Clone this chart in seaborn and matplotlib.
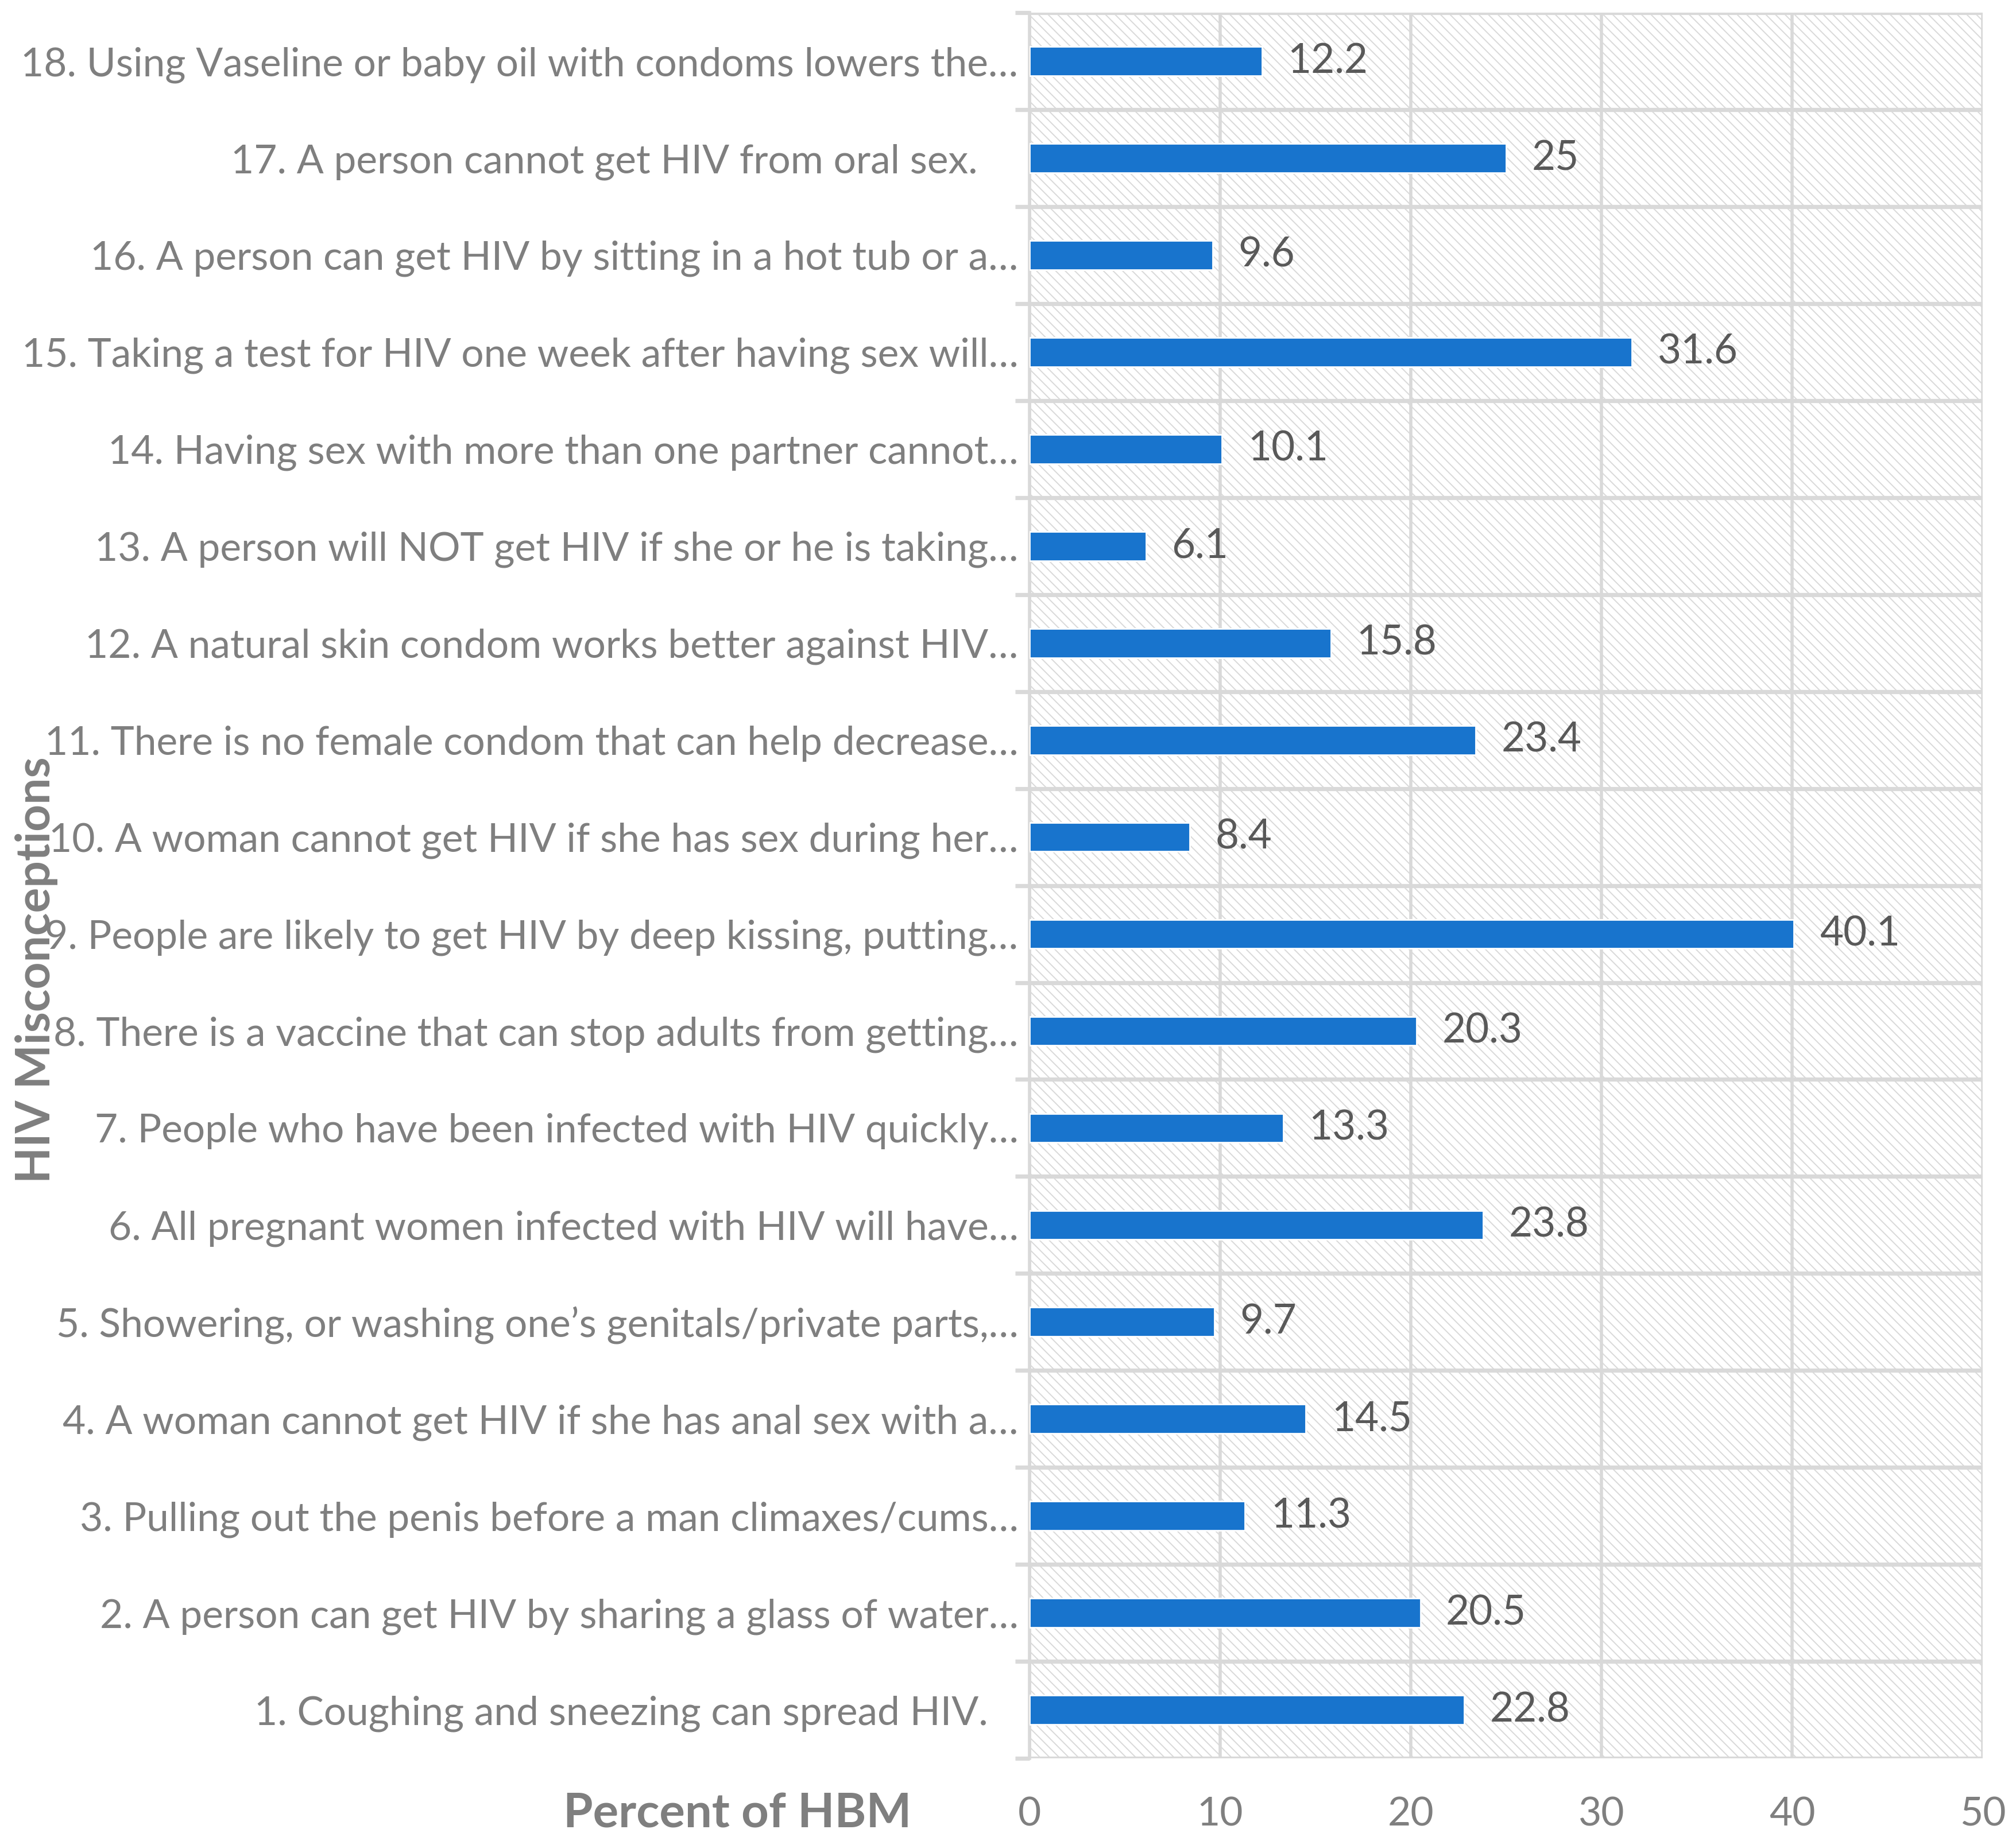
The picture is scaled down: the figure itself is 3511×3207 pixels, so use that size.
import matplotlib
matplotlib.use("Agg")
import matplotlib.pyplot as plt
from matplotlib.patches import Rectangle
from matplotlib.ticker import FixedLocator
import seaborn as sns
import pandas as pd

# labels top to bottom, as Excel truncated them
items = [
    "18. Using Vaseline or baby oil with condoms lowers the…",
    "17. A person cannot get HIV from oral sex.    ",
    "16. A person can get HIV by sitting in a hot tub or a…",
    "15. Taking a test for HIV one week after having sex will…",
    "14. Having sex with more than one partner cannot…",
    "13. A person will NOT get HIV if she or he is taking…",
    "12. A natural skin condom works better against HIV…",
    "11. There is no female condom that can help decrease…",
    "10. A woman cannot get HIV if she has sex during her…",
    "9. People are likely to get HIV by deep kissing, putting…",
    "8. There is a vaccine that can stop adults from getting…",
    "7. People who have been infected with HIV quickly…",
    "6. All pregnant women infected with HIV will have…",
    "5. Showering, or washing one’s genitals/private parts,…",
    "4. A woman cannot get HIV if she has anal sex with a…",
    "3. Pulling out the penis before a man climaxes/cums…",
    "2. A person can get HIV by sharing a glass of water…",
    "1. Coughing and sneezing can spread HIV.   ",
]
percent = [12.2, 25, 9.6, 31.6, 10.1, 6.1, 15.8, 23.4, 8.4,
           40.1, 20.3, 13.3, 23.8, 9.7, 14.5, 11.3, 20.5, 22.8]
x_ticks = [0, 10, 20, 30, 40, 50]

df = pd.DataFrame({"item": items, "percent": percent})

sns.set_theme(style="white")
plt.rcParams["font.family"] = ["Lato", "DejaVu Sans"]
plt.rcParams["hatch.linewidth"] = 0.7

grid_col = "#d9d9d9"
text_col = "#7f7f7f"

fig = plt.figure(figsize=(17.555, 16.035), dpi=200)
ax = fig.add_axes([0.5107, 0.0449, 0.9835 - 0.5107, 0.9931 - 0.0449])

# hatched plot area
ax.add_patch(Rectangle((0, 0), 1, 1, transform=ax.transAxes, facecolor="white",
                       edgecolor=grid_col, hatch="\\\\\\\\", lw=0, zorder=0))

sns.barplot(data=df, x="percent", y="item", orient="h", color="#1874cd",
            width=0.3, saturation=1, ax=ax, zorder=3)
ax.bar_label(ax.containers[0], labels=[f"{v:g}" for v in percent],
             padding=16, fontsize=25.5, color="#595959")

ax.set_xlim(0, 50)
ax.set_ylim(len(items) - 0.5, -0.5)
ax.set_xticks(x_ticks)
ax.yaxis.set_minor_locator(FixedLocator([i - 0.5 for i in range(len(items) + 1)]))

ax.grid(False)
ax.xaxis.grid(True, which="major", color=grid_col, lw=2.0, zorder=1)
ax.yaxis.grid(True, which="minor", color=grid_col, lw=2.6, zorder=1)
ax.set_axisbelow(True)

for s in ["top", "right", "bottom"]:
    ax.spines[s].set_visible(False)
ax.spines["left"].set_color(grid_col)
ax.spines["left"].set_linewidth(2.0)

ax.tick_params(axis="y", which="major", length=0, pad=7, labelsize=25, labelcolor=text_col)
ax.tick_params(axis="y", which="minor", length=9, width=2.6, color=grid_col, left=True)
ax.tick_params(axis="x", which="major", length=0, pad=24, labelsize=25, labelcolor=text_col)

ax.set_xlabel("")
ax.set_ylabel("")
fig.text(0.3657, 0.0147, "Percent of HBM", fontsize=30, fontweight="bold",
         color=text_col, ha="center", va="center")
fig.text(0.018, 0.473, "HIV Misconceptions", fontsize=29.5, fontweight="bold",
         color=text_col, ha="center", va="center", rotation=90)

fig.savefig("out.png", dpi=200)
